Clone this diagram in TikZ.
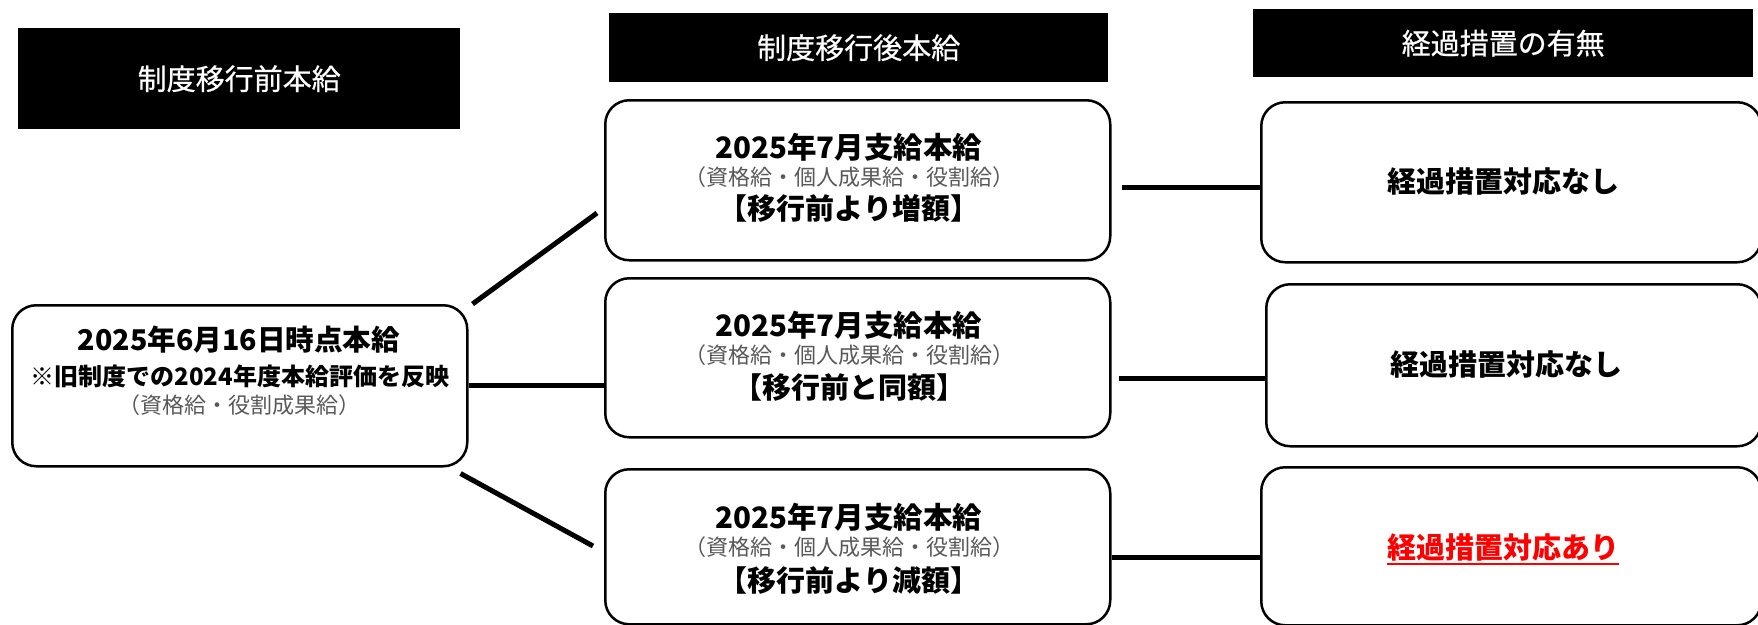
\documentclass[tikz,border=0pt]{standalone}
\usepackage{fontspec}
\setmainfont{Noto Sans CJK JP}
\newfontfamily\hdrfont{Noto Sans CJK JP}[FakeBold=0.6]
\definecolor{subgray}{HTML}{595959}
\definecolor{alertred}{HTML}{FF0000}
\begin{document}
\begin{tikzpicture}[x=1pt,y=-1pt,
  box/.style={draw=black, line width=2.5pt, rounded corners=24pt, anchor=north west, inner sep=0pt, fill=white},
  hdr/.style={fill=black, anchor=north west, inner sep=0pt, text=white, font=\hdrfont\fontsize{29}{31}\selectfont},
  bigline/.style={font=\bfseries\fontsize{29.5}{31}\selectfont, inner sep=0pt},
  midline/.style={font=\bfseries\fontsize{24}{26}\selectfont, inner sep=0pt},
  subline/.style={font=\fontsize{22}{24}\selectfont, text=subgray, inner sep=0pt},
  tagline/.style={font=\bfseries\fontsize{29}{31}\selectfont, inner sep=0pt},
  rtext/.style={font=\bfseries\fontsize{29}{31}\selectfont},
  link/.style={line width=5pt}
]
\useasboundingbox (0,0) rectangle (1758,624);

% headers
\node[hdr, minimum width=442pt, minimum height=101pt] (H1) at (18,28) {制度移行前本給};
\node[hdr, minimum width=499pt, minimum height=69pt] (H2) at (609,13) {制度移行後本給};
\node[hdr, minimum width=500pt, minimum height=68pt] (H3) at (1253,9) {経過措置の有無};

% left box
\node[box, minimum width=455pt, minimum height=161pt] (L) at (11,304) {};
\node[bigline, font=\bfseries\fontsize{28.6}{31}\selectfont] (La) at (239,340) {2025年6月16日時点本給};
\node[midline] (Lb) at (240,376) {※旧制度での2024年度本給評価を反映};
\node[subline] (Lc) at (239,405) {（資格給・役割成果給）};

% middle boxes
\node[box, minimum width=505pt, minimum height=160pt] (M1) at (604,99) {};
\node[bigline] (M1a) at (849,147) {2025年7月支給本給};
\node[subline] (M1b) at (849,177) {（資格給・個人成果給・役割給）};
\node[tagline] (M1c) at (849,208) {【移行前より増額】};

\node[box, minimum width=505pt, minimum height=159pt] (M2) at (604,277) {};
\node[bigline] (M2a) at (849,325) {2025年7月支給本給};
\node[subline] (M2b) at (849,355) {（資格給・個人成果給・役割給）};
\node[tagline] (M2c) at (849,388) {【移行前と同額】};

\node[box, minimum width=505pt, minimum height=155pt] (M3) at (604,468) {};
\node[bigline] (M3a) at (849,517) {2025年7月支給本給};
\node[subline] (M3b) at (849,547) {（資格給・個人成果給・役割給）};
\node[tagline] (M3c) at (849,581) {【移行前より減額】};

% right boxes
\node[box, minimum width=500pt, minimum height=160pt] (R1) at (1260,101) {};
\node[rtext] (R1t) at (1503,181) {経過措置対応なし};
\node[box, minimum width=495pt, minimum height=162pt] (R2) at (1265,283) {};
\node[rtext] (R2t) at (1506,364) {経過措置対応なし};
\node[box, minimum width=500pt, minimum height=158pt] (R3) at (1260,466) {};
\node[rtext, text=alertred, inner sep=0pt] (R3t) at (1503,547) {経過措置対応あり};
\draw[alertred, line width=2pt] ([yshift=-3pt]R3t.south west) -- ([yshift=-3pt]R3t.south east);

% connectors left -> middle
\coordinate (d1s) at ([shift={(4,0)}]L.north east);
\coordinate (d1e) at ([shift={(-7,114)}]M1.north west);
\draw[link] (d1s) -- (d1e);
\draw[link] (L.east) -- (L.east -| M2.west);
\coordinate (d3s) at ([shift={(-8,6)}]L.south east);
\coordinate (d3e) at ([shift={(-11,78)}]M3.north west);
\draw[link] (d3s) -- (d3e);

% connectors middle -> right
\coordinate (h1s) at ([shift={(10,88)}]M1.north east);
\draw[link] (h1s) -- (h1s -| R1.west);
\coordinate (h2s) at ([shift={(7,101)}]M2.north east);
\draw[link] (h2s) -- (h2s -| R2.west);
\coordinate (h3s) at ([shift={(0,89)}]M3.north east);
\draw[link] (h3s) -- (h3s -| R3.west);
\end{tikzpicture}
\end{document}
